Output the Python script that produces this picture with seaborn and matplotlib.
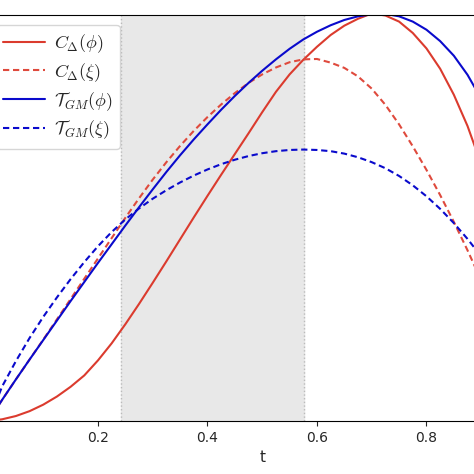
import numpy as np
import pandas as pd
import matplotlib
matplotlib.use("Agg")
import matplotlib.pyplot as plt
import seaborn as sns

sns.set_style("ticks")
plt.rcParams['mathtext.fontset'] = 'cm'

# values (normalised, t from 0 to 0.9)
t = [0.0, 0.025, 0.05, 0.075, 0.1, 0.125, 0.15, 0.175, 0.2, 0.225,
     0.25, 0.275, 0.3, 0.325, 0.35, 0.375, 0.4, 0.425, 0.45, 0.475,
     0.5, 0.525, 0.55, 0.575, 0.6, 0.625, 0.65, 0.675, 0.7, 0.725,
     0.75, 0.775, 0.8, 0.825, 0.85, 0.875, 0.9]
c_phi = [0.0, 0.004, 0.012, 0.024, 0.040, 0.060, 0.084, 0.112, 0.149, 0.191,
         0.238, 0.288, 0.340, 0.393, 0.447, 0.501, 0.554, 0.606, 0.657, 0.708,
         0.760, 0.810, 0.853, 0.889, 0.921, 0.950, 0.973, 0.990, 1.003, 0.998,
         0.983, 0.955, 0.917, 0.867, 0.803, 0.726, 0.632]
c_xi = [0.0, 0.052, 0.102, 0.151, 0.200, 0.250, 0.300, 0.350, 0.400, 0.450,
        0.500, 0.548, 0.594, 0.637, 0.677, 0.714, 0.748, 0.779, 0.807, 0.832,
        0.853, 0.870, 0.883, 0.890, 0.891, 0.882, 0.869, 0.848, 0.818, 0.778,
        0.730, 0.676, 0.618, 0.556, 0.490, 0.420, 0.346]
tgm_phi = [0.0, 0.052, 0.102, 0.151, 0.199, 0.247, 0.295, 0.342, 0.389, 0.435,
           0.481, 0.526, 0.570, 0.613, 0.654, 0.693, 0.730, 0.766, 0.800, 0.832,
           0.862, 0.890, 0.916, 0.939, 0.958, 0.974, 0.987, 0.996, 1.001, 1.002,
           0.996, 0.983, 0.963, 0.935, 0.899, 0.852, 0.793]
tgm_xi = [0.0, 0.085, 0.147, 0.204, 0.256, 0.304, 0.349, 0.391, 0.430, 0.465,
          0.496, 0.523, 0.547, 0.568, 0.587, 0.604, 0.619, 0.632, 0.643, 0.652,
          0.659, 0.664, 0.667, 0.668, 0.667, 0.664, 0.658, 0.649, 0.637, 0.622,
          0.603, 0.580, 0.553, 0.522, 0.487, 0.448, 0.405]

labels = [r'$C_{\Delta}(\phi)$', r'$C_{\Delta}(\xi)$',
          r'$\mathcal{T}_{GM}(\phi)$', r'$\mathcal{T}_{GM}(\xi)$']
span = (0.242, 0.576)

df = pd.concat([
    pd.DataFrame({'t': t, 'value': v, 'curve': lab})
    for v, lab in zip([c_phi, c_xi, tgm_phi, tgm_xi], labels)
])

fig = plt.figure(figsize=(4.74, 4.74), dpi=100)
# axes wider than the figure: the reference is a crop of a bigger plot
ax = fig.add_axes([-0.0243, 0.112, 1.155, 0.857])

ax.axvspan(span[0], span[1], color='#e8e8e8', zorder=0)
for x in span:
    ax.axvline(x, color='#bbbbbb', ls=':', lw=1, zorder=0.5)

sns.lineplot(data=df, x='t', y='value', hue='curve', style='curve',
             palette=['#db3b2e', '#df4a3d', '#0a0acc', '#0a0acc'],
             dashes=[(None, None), (3, 1.8), (None, None), (3, 1.8)],
             linewidth=1.5, ax=ax)

ax.set_xlim(0, 1)
ax.set_ylim(0, 1)
ax.set_xticks([0.2, 0.4, 0.6, 0.8])
ax.set_xticklabels(['0.2', '0.4', '0.6', '0.8'], fontsize=10)
ax.set_yticks([])
ax.set_xlabel('t', fontsize=11)
ax.set_ylabel('')
for s in ['top', 'right', 'left', 'bottom']:
    ax.spines[s].set_visible(True)
    ax.spines[s].set_color('black')

ax.legend(loc='upper left', bbox_to_anchor=(0.0137, 0.975), borderaxespad=0,
          fontsize=13, title=None, handlelength=2.3, handletextpad=0.5,
          labelspacing=0.34)

fig.savefig('out.png', dpi=100)
